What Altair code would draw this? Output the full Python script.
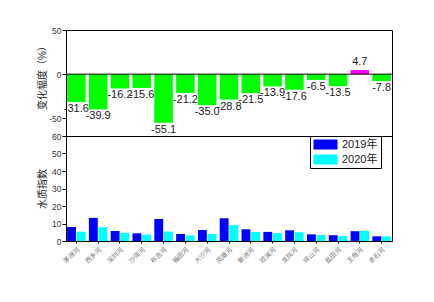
import altair as alt
import pandas as pd

rivers = ["茅洲河", "西乡河", "深圳河", "沙湾河", "布吉河", "福田河", "大沙河", "凤塘河",
          "新洲河", "观澜河", "龙岗河", "坪山河", "盐田河", "王母河", "赤石河"]
change = [-31.6, -39.9, -16.2, -15.6, -55.1, -21.2, -35.0, -28.8,
          -21.5, -13.9, -17.6, -6.5, -13.5, 4.7, -7.8]
wq2019 = [8.0, 13.2, 5.7, 4.4, 12.6, 4.0, 6.3, 13.0, 6.7, 5.2, 6.1, 3.8, 3.3, 5.6, 2.7]
wq2020 = [5.3, 7.9, 4.7, 3.6, 5.4, 3.2, 4.0, 9.1, 5.2, 4.5, 5.0, 3.4, 2.8, 5.8, 2.6]
years = ["2019年", "2020年"]
top_ticks = [50, 25, 0, -25, -50]
bottom_ticks = [0, 10, 20, 30, 40, 50, 60]

FONT = "Liberation Sans, Noto Sans CJK SC, sans-serif"
W = 326

df_top = pd.DataFrame({
    "river": rivers,
    "change": change,
    "sign": ["pos" if v > 0 else "neg" for v in change],
    "label": [f"{v:.1f}" for v in change],
})

xs = alt.Scale(paddingInner=0.15, paddingOuter=0.05)
x_top = alt.X("river:N", sort=rivers, scale=xs, axis=None)
y_top = alt.Y(
    "change:Q",
    scale=alt.Scale(domain=[-70, 50], nice=False, zero=False),
    axis=alt.Axis(title="变化幅度（%）", values=top_ticks, format="d",
                  labelOverlap=False, tickSize=4, titleX=-19, titleY=45),
)

bars = alt.Chart(df_top).mark_bar().encode(
    x=x_top,
    y=y_top,
    color=alt.Color("sign:N", scale=alt.Scale(domain=["neg", "pos"], range=["#00FF00", "#FF00FF"]), legend=None),
)
zero = alt.Chart(pd.DataFrame({"change": [0]})).mark_rule(color="black", strokeWidth=1).encode(y="change:Q")
lab_neg = alt.Chart(df_top).transform_filter("datum.change < 0").mark_text(
    fontSize=11, font=FONT, color="#1a1a1a", baseline="middle", dy=7
).encode(x=x_top, y="change:Q", text="label:N")
lab_pos = alt.Chart(df_top).transform_filter("datum.change > 0").mark_text(
    fontSize=11, font=FONT, color="#1a1a1a", baseline="middle", dy=-8
).encode(x=x_top, y="change:Q", text="label:N")

top = alt.layer(bars, zero, lab_neg, lab_pos).properties(width=W, height=106)

rows = []
for r, a, b in zip(rivers, wq2019, wq2020):
    rows.append({"river": r, "year": years[0], "value": a})
    rows.append({"river": r, "year": years[1], "value": b})
df_b = pd.DataFrame(rows)

bottom = alt.Chart(df_b).mark_bar().encode(
    x=alt.X("river:N", sort=rivers, scale=xs,
            axis=alt.Axis(title=None, labelAngle=315, labelFontSize=6.5, labelColor="#777",
                          tickSize=2, labelPadding=3)),
    xOffset=alt.XOffset("year:N", sort=years, scale=alt.Scale(paddingInner=0.08)),
    y=alt.Y("value:Q", scale=alt.Scale(domain=[0, 60], nice=False),
            axis=alt.Axis(title="水质指数", values=bottom_ticks, tickSize=4,
                          titleX=-19, labelOverlap=False)),
    color=alt.Color("year:N", scale=alt.Scale(domain=years, range=["#0000FF", "#00FFFF"]),
                    legend=alt.Legend(
                        title=None, orient="none", legendX=244, legendY=0,
                        symbolType="M-1,-1H3.8V1H-1Z", symbolSize=100, symbolStrokeWidth=0,
                        symbolOpacity=1,
                        labelOffset=18, labelFontSize=11, labelFont=FONT, labelColor="#1a1a1a",
                        strokeColor="black", fillColor="white", padding=3, rowPadding=3,
                        cornerRadius=0)),
).properties(width=W, height=105)

chart = alt.vconcat(top, bottom, spacing=0, bounds="flush").resolve_scale(
    color="independent", x="independent", y="independent"
).properties(
    padding={"left": 36, "top": 25, "right": 5, "bottom": 5}
).configure(
    locale={"number": {"decimal": ".", "thousands": ",", "grouping": [3],
                       "currency": ["$", ""], "minus": "-"}}
).configure_view(stroke="black", strokeWidth=1).configure_axis(
    grid=False, domainColor="black", tickColor="black", labelColor="#333",
    labelFont=FONT, titleFont=FONT, labelFontSize=8.5, titleFontSize=10,
    titleFontWeight="normal", titleColor="#1a1a1a", labelPadding=1, titlePadding=2,
)

chart.save("out.html", embed_options={"renderer": "svg", "actions": False})
